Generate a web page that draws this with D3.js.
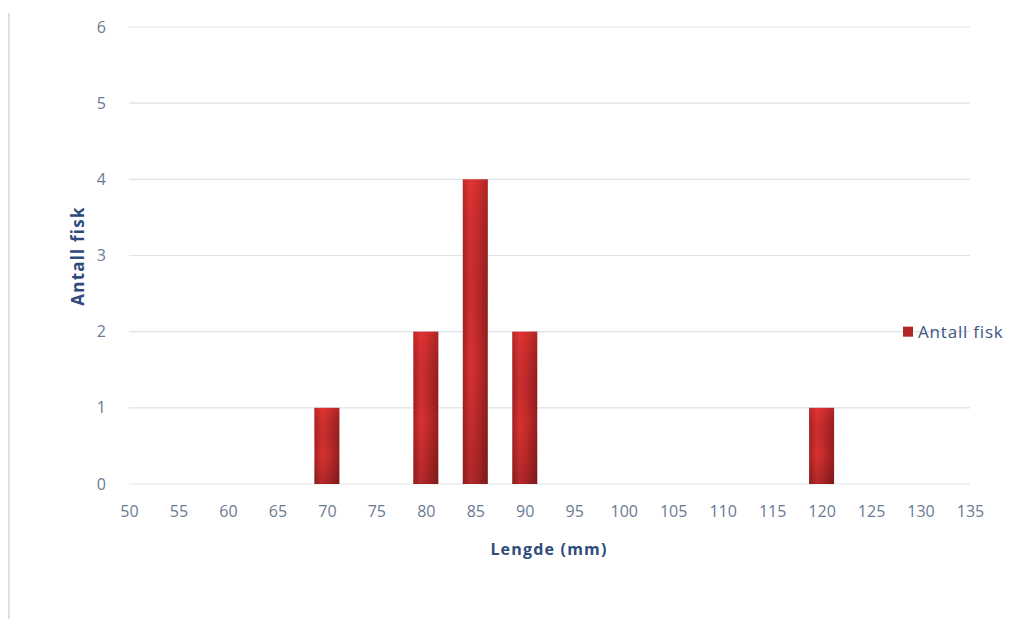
<!DOCTYPE html>
<html>
<head>
<meta charset="utf-8">
<script src="https://cdn.jsdelivr.net/npm/d3@7"></script>
<style>
  html, body { margin: 0; padding: 0; background: #fff; }
  svg { display: block; }
  text { font-family: "Open Sans", "Liberation Sans", sans-serif; }
</style>
</head>
<body>
<svg id="chart" width="1020" height="619"></svg>
<script>
// Fish length distribution
const lengths = [50, 55, 60, 65, 70, 75, 80, 85, 90, 95, 100, 105, 110, 115, 120, 125, 130, 135];
const counts  = [0, 0, 0, 0, 1, 0, 2, 4, 2, 0, 0, 0, 0, 0, 1, 0, 0, 0];
const yTicks  = [0, 1, 2, 3, 4, 5, 6];
const seriesName = "Antall fisk";
const xTitle = "Lengde (mm)";
const yTitle = "Antall fisk";

const svg = d3.select("#chart");
const W = 1020, H = 619;
const plot = { left: 129, right: 970, top: 27, bottom: 484 };

const x = d3.scaleLinear().domain([50, 135]).range([plot.left, plot.right]);
const y = d3.scaleLinear().domain([0, 6]).range([plot.bottom, plot.top]);
const barW = 25;

const defs = svg.append("defs");
// horizontal shading: dark edges, bright centre
const gH = defs.append("linearGradient").attr("id", "barH").attr("x1", 0).attr("x2", 1).attr("y1", 0).attr("y2", 0);
gH.append("stop").attr("offset", "0%").attr("stop-color", "#a82222");
gH.append("stop").attr("offset", "30%").attr("stop-color", "#d83232");
gH.append("stop").attr("offset", "55%").attr("stop-color", "#c82c2c");
gH.append("stop").attr("offset", "100%").attr("stop-color", "#961e1e");
// vertical darkening towards the base
const gV = defs.append("linearGradient").attr("id", "barV").attr("x1", 0).attr("x2", 0).attr("y1", 0).attr("y2", 1);
gV.append("stop").attr("offset", "0%").attr("stop-color", "#ff3a3a").attr("stop-opacity", 0.25);
gV.append("stop").attr("offset", "60%").attr("stop-color", "#000").attr("stop-opacity", 0.0);
gV.append("stop").attr("offset", "100%").attr("stop-color", "#000").attr("stop-opacity", 0.18);

// left frame line
svg.append("line")
  .attr("x1", 9).attr("x2", 9).attr("y1", 13).attr("y2", H)
  .attr("stroke", "#dcdfe6").attr("stroke-width", 2);

// gridlines
svg.append("g").selectAll("line").data(yTicks).join("line")
  .attr("x1", plot.left).attr("x2", plot.right)
  .attr("y1", d => y(d)).attr("y2", d => y(d))
  .attr("stroke", "#dde1ea").attr("stroke-width", 1.2);

// y axis labels
const yAxis = d3.axisLeft(y).tickValues(yTicks).tickSize(0).tickPadding(0).tickFormat(d3.format("d"));
svg.append("g").attr("transform", `translate(${plot.left - 23},0)`).call(yAxis)
  .call(g => g.select(".domain").remove())
  .selectAll("text")
  .attr("fill", "#6a7a94").attr("font-size", 16)
  .attr("font-family", "'Open Sans', sans-serif");

// x axis labels
const xAxis = d3.axisBottom(x).tickValues(lengths).tickSize(0).tickPadding(0).tickFormat(d3.format("d"));
svg.append("g").attr("transform", `translate(0,${plot.bottom + 22})`).call(xAxis)
  .call(g => g.select(".domain").remove())
  .selectAll("text")
  .attr("fill", "#6a7a94").attr("font-size", 16)
  .attr("font-family", "'Open Sans', sans-serif");

// bars
const data = lengths.map((l, i) => ({ l, c: counts[i] })).filter(d => d.c > 0);
const bars = svg.append("g");
bars.selectAll("rect.base").data(data).join("rect")
  .attr("class", "base")
  .attr("x", d => x(d.l) - barW / 2).attr("width", barW)
  .attr("y", d => y(d.c)).attr("height", d => y(0) - y(d.c))
  .attr("fill", "url(#barH)");
bars.selectAll("rect.shade").data(data).join("rect")
  .attr("class", "shade")
  .attr("x", d => x(d.l) - barW / 2).attr("width", barW)
  .attr("y", d => y(d.c)).attr("height", d => y(0) - y(d.c))
  .attr("fill", "url(#barV)");

// axis titles
svg.append("text")
  .attr("x", 549).attr("y", 555)
  .attr("text-anchor", "middle")
  .attr("font-size", 16).attr("font-weight", "bold").attr("fill", "#2f4b7c")
  .attr("letter-spacing", 1.2)
  .text(xTitle);
svg.append("text")
  .attr("transform", "translate(84,256) rotate(-90)")
  .attr("text-anchor", "middle")
  .attr("font-size", 17).attr("font-weight", "bold").attr("fill", "#2f4b7c")
  .attr("letter-spacing", 1.2)
  .text(yTitle);

// legend
const lg = svg.append("g").attr("transform", `translate(903,${y(2)})`);
lg.append("rect").attr("x", 0).attr("y", -5).attr("width", 10).attr("height", 10).attr("fill", "#b32626");
lg.append("text").attr("x", 15).attr("y", 0).attr("dy", "0.35em")
  .attr("font-size", 17).attr("letter-spacing", 0.8).attr("fill", "#3d5580").text(seriesName);
</script>
</body>
</html>
